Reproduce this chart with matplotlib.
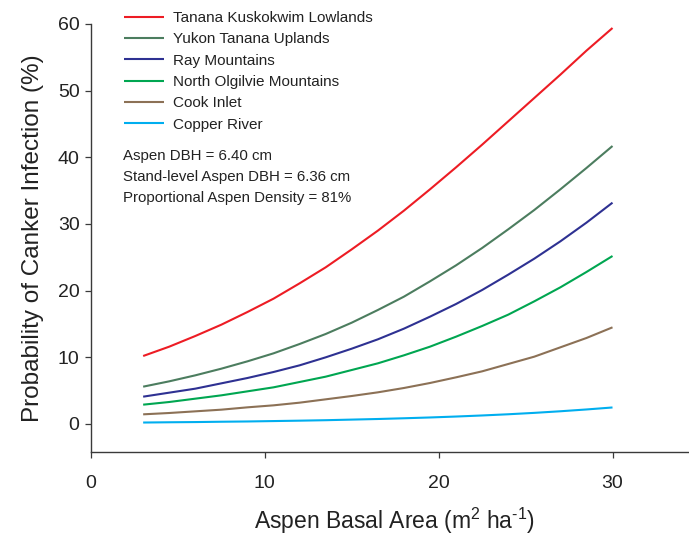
import matplotlib
matplotlib.use("Agg")
import matplotlib.pyplot as plt

plt.rcParams['font.family'] = ['Liberation Sans', 'DejaVu Sans']
plt.rcParams['mathtext.fontset'] = 'custom'
plt.rcParams['mathtext.rm'] = 'Liberation Sans'
plt.rcParams['mathtext.it'] = 'Liberation Sans:italic'
plt.rcParams['mathtext.bf'] = 'Liberation Sans:bold'

# Aspen basal area (m2 ha-1)
basal_area = [3, 4.5, 6, 7.5, 9, 10.5, 12, 13.5, 15, 16.5,
              18, 19.5, 21, 22.5, 24, 25.5, 27, 28.5, 30]

# Predicted probability of canker infection (%) by ecoregion
tanana_kuskokwim = [10.2, 11.6, 13.2, 14.9, 16.8, 18.8, 21.1, 23.5, 26.2, 29.0,
                    32.0, 35.2, 38.5, 41.9, 45.4, 48.9, 52.4, 56.0, 59.4]
yukon_tanana = [5.6, 6.4, 7.3, 8.3, 9.4, 10.6, 12.0, 13.5, 15.2, 17.1,
                19.1, 21.4, 23.8, 26.4, 29.2, 32.1, 35.2, 38.4, 41.7]
ray_mountains = [4.1, 4.7, 5.3, 6.1, 6.9, 7.8, 8.8, 10.0, 11.3, 12.7,
                 14.3, 16.1, 18.0, 20.1, 22.4, 24.8, 27.4, 30.2, 33.2]
north_olgilvie = [2.9, 3.3, 3.8, 4.3, 4.9, 5.5, 6.3, 7.1, 8.1, 9.1,
                  10.3, 11.6, 13.1, 14.7, 16.4, 18.4, 20.5, 22.8, 25.2]
cook_inlet = [1.45, 1.65, 1.9, 2.15, 2.5, 2.8, 3.2, 3.7, 4.2, 4.75,
              5.4, 6.15, 7.0, 7.9, 9.0, 10.1, 11.5, 12.9, 14.5]
copper_river = [0.22, 0.26, 0.29, 0.34, 0.38, 0.44, 0.50, 0.57, 0.66, 0.75,
                0.86, 0.98, 1.12, 1.28, 1.46, 1.67, 1.91, 2.18, 2.48]

region_names = ["Tanana Kuskokwim Lowlands", "Yukon Tanana Uplands", "Ray Mountains",
                "North Olgilvie Mountains", "Cook Inlet", "Copper River"]
region_colors = ["#ED1C24", "#4C7D5F", "#2E3192", "#00A651", "#8C7156", "#00AEEF"]
series = [tanana_kuskokwim, yukon_tanana, ray_mountains, north_olgilvie, cook_inlet, copper_river]

x_ticks = [0, 10, 20, 30]
y_ticks = [0, 10, 20, 30, 40, 50, 60]

fig = plt.figure(figsize=(6.89, 5.38), dpi=100)
W, H = 689, 538
ax = fig.add_axes([91 / W, 86 / H, 1 - 91 / W, (452 - 24) / H])

for name, col, vals in zip(region_names, region_colors, series):
    ax.plot(basal_area, vals, color=col, lw=1.5, label=name, solid_capstyle='butt')

ax.set_xlim(0, 34.4)
ax.set_ylim(-4.2, 60)
ax.set_xticks(x_ticks)
ax.set_yticks(y_ticks)

for s in ['top', 'right']:
    ax.spines[s].set_visible(False)
for s in ['left', 'bottom']:
    ax.spines[s].set_color('#3a3a3a')
    ax.spines[s].set_linewidth(1.0)

ax.tick_params(direction='out', length=4.2, width=0.9, color='#3a3a3a',
               labelsize=14, labelcolor='#222222')
ax.tick_params(axis='y', pad=4)
ax.tick_params(axis='x', pad=12)

ax.set_xlabel("Aspen Basal Area (m$^{2}$ ha$^{\u20101}$)", fontsize=16.5, color='#222222')
ax.xaxis.set_label_coords((394.5 - 91) / 598, -(529 - 452) / 428, transform=ax.transAxes)
ax.xaxis.label.set_verticalalignment('baseline')
ax.set_ylabel("Probability of Canker Infection (%)", fontsize=17.5, labelpad=10, color='#222222')

leg = ax.legend(loc='upper left', bbox_to_anchor=(124 / W, 1 - 11 / H), bbox_transform=fig.transFigure,
                frameon=False, fontsize=11, handlelength=2.6, handletextpad=0.6,
                labelspacing=0.48, borderaxespad=0, borderpad=0)
for t in leg.get_texts():
    t.set_color('#222222')

fig.text(123 / W, 1 - 149 / H,
         "Aspen DBH = 6.40 cm\nStand-level Aspen DBH = 6.36 cm\nProportional Aspen Density = 81%",
         fontsize=10.8, color='#222222', va='top', ha='left', linespacing=1.65)

fig.savefig("out.png", dpi=100)
